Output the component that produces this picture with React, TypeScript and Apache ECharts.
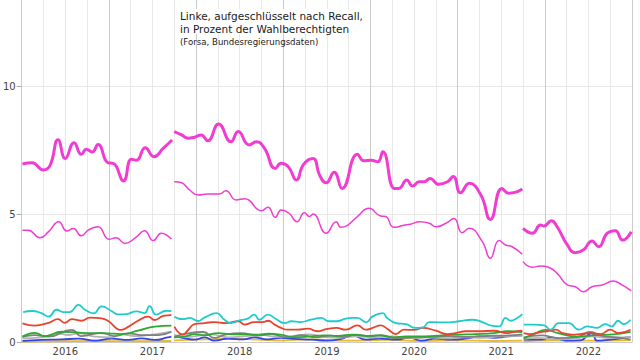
import React, { useEffect, useRef } from "react";
import * as echarts from "echarts";

// x = months since Jan 2016, y = percent of eligible voters
const yearLabels = ["2016", "2017", "2018", "2019", "2020", "2021", "2022"];
const yearLabelMonths = [6, 18, 30, 42, 54, 66, 78];
const yTickValues = [0, 5, 10];

const magentaThickP1 = [[0.1,6.95],[1.4,7.0],[3.0,6.72],[3.9,6.9],[5.0,7.9],[6.0,7.17],[7.2,7.78],[8.2,7.33],[8.9,7.53],[9.7,7.42],[10.5,7.71],[11.9,7.0],[12.6,6.98],[14.0,6.29],[15.1,7.14],[15.8,7.1],[17.0,7.59],[18.2,7.24],[19.5,7.57],[20.7,7.89]];
const magentaThickP2 = [[21.0,8.22],[22.0,8.09],[22.9,7.96],[23.8,8.0],[24.7,8.09],[25.6,7.86],[27.1,8.52],[28.8,7.82],[29.8,8.22],[31.3,7.7],[32.3,7.82],[33.4,7.57],[34.9,6.78],[35.7,6.98],[36.7,6.85],[37.8,6.33],[38.8,6.94],[40.1,7.17],[41.0,6.52],[41.9,6.22],[43.0,6.63],[44.1,6.0],[46.2,7.33],[47.1,7.08],[48.1,7.1],[49.0,7.04],[49.7,7.43],[51.3,6.0],[51.9,6.0],[53.0,6.33],[53.8,6.09],[54.7,6.26],[55.4,6.26],[56.2,6.39],[57.4,6.16],[58.6,6.26],[59.4,6.46],[60.4,5.83],[61.6,6.2],[63.2,5.74],[64.5,4.79],[66.1,6.0],[67.0,5.81],[68.2,5.87],[68.9,5.98]];
const magentaThickP3 = [[69.0,4.44],[70.3,4.25],[71.4,4.57],[71.9,4.53],[72.9,4.74],[73.7,4.5],[75.1,3.79],[76.2,3.49],[77.3,3.59],[78.5,3.95],[79.4,3.72],[80.6,4.25],[81.7,4.35],[82.7,3.98],[83.9,4.31]];

const magentaThinP1 = [[0.1,4.37],[0.9,4.37],[2.5,4.07],[3.7,4.31],[5.1,4.7],[6.2,4.34],[7.1,4.43],[8.2,4.15],[9.2,4.38],[10.5,4.5],[12.0,4.01],[13.0,4.07],[14.2,3.85],[15.8,4.11],[16.9,4.35],[18.1,3.96],[19.2,4.25],[20.6,4.02]];
const magentaThinP2 = [[21.0,6.26],[22.0,6.22],[23.1,5.94],[24.3,5.74],[25.6,5.78],[27.2,5.78],[28.1,5.91],[29.5,5.55],[30.7,5.6],[33.0,5.13],[33.9,5.26],[34.9,4.87],[35.7,5.16],[36.8,5.03],[37.9,4.7],[38.9,5.05],[39.6,4.9],[40.1,5.0],[41.9,4.25],[43.3,4.7],[43.9,4.48],[44.9,4.57],[46.2,4.9],[47.8,5.22],[49.4,4.92],[50.1,4.9],[51.2,4.48],[52.6,4.56],[53.5,4.6],[54.8,4.7],[56.1,4.64],[57.0,4.5],[58.4,4.64],[59.5,4.82],[60.6,4.27],[61.6,4.44],[63.4,3.92],[64.5,3.27],[65.7,3.96],[66.6,3.79],[67.5,3.72],[68.9,3.43]];
const magentaThinP3 = [[69.0,3.14],[70.3,2.92],[71.4,2.97],[72.5,2.92],[73.7,2.68],[75.1,2.23],[76.2,2.16],[77.3,1.96],[78.5,2.16],[79.9,2.23],[81.4,2.38],[82.6,2.23],[83.9,2.0]];

const cyanP1 = [[0.2,1.17],[1.4,1.21],[2.7,1.13],[3.7,0.99],[4.8,1.26],[5.7,1.17],[6.6,1.17],[7.8,1.45],[8.7,1.26],[9.9,1.12],[11.0,1.39],[12.4,1.2],[13.3,1.08],[14.4,1.09],[15.8,1.2],[16.9,1.13],[17.6,1.4],[18.5,1.07],[19.9,1.22],[20.6,1.21]];
const cyanP2 = [[21.0,0.99],[22.2,0.89],[23.1,0.94],[24.3,0.82],[25.2,0.96],[26.8,1.13],[27.9,0.87],[28.8,0.74],[29.8,0.83],[31.1,0.91],[32.0,1.07],[32.7,0.87],[33.9,1.07],[34.8,0.94],[36.2,0.74],[37.1,0.81],[38.4,0.78],[39.8,0.87],[41.2,0.94],[42.3,0.81],[43.3,0.81],[44.6,0.91],[45.5,0.94],[46.2,0.94],[47.4,0.77],[48.3,1.0],[49.7,1.13],[50.3,0.94],[51.5,0.74],[52.9,0.7],[54.2,0.55],[55.2,0.57],[56.1,0.78],[57.4,0.77],[58.8,0.77],[60.2,0.81],[62.0,0.87],[63.4,0.78],[64.5,0.65],[65.7,0.61],[66.6,0.94],[67.3,0.83],[68.2,0.94],[68.9,1.09]];
const cyanP3 = [[69.1,0.68],[70.5,0.68],[71.9,0.65],[72.8,0.48],[73.9,0.74],[75.3,0.74],[76.7,0.48],[77.8,0.61],[79.2,0.55],[80.3,0.7],[81.2,0.61],[82.1,0.83],[82.8,0.7],[83.8,0.87]];

const redP1 = [[0.1,0.73],[1.8,0.64],[3.7,0.75],[5.0,0.89],[5.9,0.75],[6.9,0.89],[8.2,0.83],[9.4,0.95],[11.0,0.92],[11.9,0.82],[13.7,0.47],[14.7,0.6],[16.0,0.83],[17.4,0.99],[18.3,0.86],[19.5,1.02],[20.6,1.05]];
const redP2 = [[21.0,0.6],[22.2,0.29],[22.9,0.47],[23.8,0.7],[25.2,0.74],[26.5,0.78],[28.1,0.74],[29.8,0.81],[30.7,0.68],[32.0,0.78],[33.2,0.78],[33.9,0.83],[34.8,0.68],[35.7,0.55],[36.6,0.48],[38.0,0.48],[39.4,0.52],[40.7,0.42],[41.9,0.5],[43.3,0.55],[44.6,0.48],[46.2,0.65],[47.4,0.48],[48.3,0.55],[49.4,0.65],[50.3,0.52],[51.5,0.31],[52.6,0.48],[54.0,0.47],[55.2,0.55],[57.0,0.44],[58.6,0.31],[59.7,0.35],[61.1,0.42],[62.9,0.42],[65.0,0.44],[66.8,0.35],[68.2,0.42],[68.9,0.44]];
const redP3 = [[69.1,0.35],[70.0,0.31],[71.4,0.39],[72.3,0.42],[73.5,0.48],[74.4,0.35],[75.8,0.29],[76.9,0.31],[78.3,0.35],[79.7,0.31],[81.0,0.48],[82.1,0.35],[83.8,0.48]];

const greenP1 = [[0.1,0.21],[1.8,0.36],[3.2,0.23],[5.5,0.4],[8.2,0.36],[11.9,0.34],[13.7,0.31],[16.0,0.44],[18.3,0.6],[20.6,0.64]];
const greenP2 = [[21.0,0.18],[22.5,0.22],[23.8,0.31],[25.2,0.26],[27.0,0.35],[28.6,0.31],[30.6,0.3],[32.6,0.29],[34.0,0.33],[35.8,0.28],[37.5,0.18],[39.8,0.22],[41.6,0.26],[43.5,0.24],[45.5,0.29],[47.4,0.24],[49.2,0.26],[51.0,0.18],[53.0,0.22],[55.5,0.22],[57.9,0.26],[60.2,0.29],[62.5,0.31],[65.0,0.35],[66.9,0.42],[68.9,0.39]];
const greenP3 = [[69.1,0.14],[70.7,0.34],[72.1,0.47],[73.7,0.36],[76.4,0.21],[79.2,0.27],[81.5,0.3],[83.8,0.4]];

const grayDarkP1 = [[0.1,0.2],[1.8,0.27],[3.7,0.21],[6.9,0.47],[8.2,0.23],[11.0,0.36],[12.8,0.23],[14.7,0.34],[16.5,0.27],[18.8,0.27],[20.6,0.4]];
const grayDarkP2 = [[21.0,0.2],[22.3,0.31],[25.0,0.39],[26.5,0.16],[28.0,0.29],[30.2,0.35],[32.5,0.25],[34.3,0.31],[36.5,0.18],[38.5,0.27],[40.5,0.18],[42.5,0.25],[44.5,0.2],[46.0,0.29],[48.0,0.22],[49.5,0.27],[51.5,0.15],[54.0,0.18],[56.5,0.2],[59.0,0.22],[61.5,0.2],[64.0,0.24],[66.5,0.25],[68.9,0.3]];
const grayDarkP3 = [[69.1,0.18],[71.5,0.26],[74.0,0.15],[76.5,0.2],[78.3,0.39],[79.8,0.24],[82.0,0.18],[83.8,0.09]];

const grayLightP1 = [[0.1,0.14],[2.7,0.18],[5.0,0.34],[6.4,0.27],[7.8,0.34],[10.1,0.21],[12.4,0.18],[13.7,0.3],[15.6,0.23],[17.4,0.27],[19.2,0.34],[20.6,0.4]];
const grayLightP2 = [[21.0,0.28],[22.5,0.2],[24.5,0.25],[26.0,0.3],[28.5,0.18],[30.5,0.22],[33.0,0.28],[35.0,0.2],[37.5,0.24],[39.5,0.3],[41.5,0.2],[43.5,0.16],[46.0,0.22],[48.5,0.18],[51.0,0.22],[53.5,0.15],[56.0,0.18],[58.5,0.14],[61.0,0.18],[63.5,0.16],[66.0,0.22],[68.9,0.24]];
const grayLightP3 = [[69.1,0.12],[71.0,0.16],[73.5,0.1],[76.0,0.14],[78.5,0.22],[80.5,0.16],[83.8,0.2]];

const blueP1 = [[0.1,0.04],[2.7,0.08],[5.5,0.1],[7.8,0.13],[10.1,0.05],[12.4,0.13],[14.7,0.08],[16.5,0.14],[18.3,0.08],[20.1,0.18],[20.6,0.21]];
const blueP2 = [[21.0,0.22],[22.2,0.16],[23.8,0.09],[25.2,0.18],[26.5,0.05],[28.4,0.13],[30.5,0.1],[32.0,0.18],[33.8,0.1],[35.7,0.16],[37.5,0.12],[40.0,0.09],[42.0,0.05],[44.0,0.12],[45.5,0.26],[47.4,0.09],[49.2,0.13],[51.8,0.09],[53.3,0.18],[55.0,0.05],[57.0,0.13],[59.0,0.09],[61.3,0.14],[63.0,0.22],[65.0,0.16],[67.0,0.22],[68.9,0.26]];
const blueP3 = [[69.1,0.09],[71.5,0.09],[73.0,0.18],[74.9,0.05],[76.8,0.06],[78.5,0.35],[79.2,0.05],[81.0,0.09],[82.5,0.14],[83.8,0.2]];

const yellowP1 = [[0.1,0.02],[5.0,0.03],[10.0,0.04],[15.0,0.03],[20.6,0.04]];
const yellowP2 = [[21.0,0.06],[25.0,0.1],[30.0,0.12],[35.0,0.06],[40.0,0.1],[45.0,0.05],[50.0,0.08],[55.0,0.04],[60.0,0.06],[65.0,0.04],[68.9,0.05]];
const yellowP3 = [[69.1,0.03],[73.0,0.06],[78.0,0.05],[83.8,0.07]];

const seriesDefs = [
  { name: "yellow", color: "#e8bb2e", width: 1.8, parts: [yellowP1, yellowP2, yellowP3] },
  { name: "blue", color: "#3344ee", width: 1.8, parts: [blueP1, blueP2, blueP3] },
  { name: "grayLight", color: "#b4b4b4", width: 1.8, parts: [grayLightP1, grayLightP2, grayLightP3] },
  { name: "grayDark", color: "#808080", width: 1.8, parts: [grayDarkP1, grayDarkP2, grayDarkP3] },
  { name: "green", color: "#2fa82f", width: 1.8, parts: [greenP1, greenP2, greenP3] },
  { name: "red", color: "#e8432e", width: 1.8, parts: [redP1, redP2, redP3] },
  { name: "cyan", color: "#1ecccc", width: 1.8, parts: [cyanP1, cyanP2, cyanP3] },
  { name: "magentaThin", color: "#f03cd2", width: 1.5, parts: [magentaThinP1, magentaThinP2, magentaThinP3] },
  { name: "magentaThick", color: "#f03cd2", width: 3, parts: [magentaThickP1, magentaThickP2, magentaThickP3] },
];

const FONT = "DejaVu Sans";
const MAJOR = "#cbcbcb";
const MINOR = "#e8e8e8";

export default function App() {
  const ref = useRef<HTMLDivElement>(null);
  useEffect(() => {
    document.body.style.margin = "0";
    if (!ref.current) return;
    const chart = echarts.init(ref.current, undefined, { renderer: "svg" });
    const series: any[] = [];
    seriesDefs.forEach((d) => {
      d.parts.forEach((p, i) => {
        series.push({
          name: d.name + i,
          type: "line",
          data: p,
          smooth: 0.5,
          showSymbol: false,
          symbol: "none",
          lineStyle: { color: d.color, width: d.width },
          z: 3,
        });
      });
    });
    chart.setOption({
      animation: false,
      backgroundColor: "#ffffff",
      grid: { left: 21, right: 8, top: 0, bottom: 18, containLabel: false },
      xAxis: {
        type: "value",
        min: 0,
        max: 84,
        interval: 3,
        axisLine: { show: true, lineStyle: { color: MAJOR, width: 1 } },
        axisTick: { show: false },
        splitLine: { show: true, lineStyle: { color: [MAJOR, MINOR, MINOR, MINOR], width: 1 } },
        axisLabel: {
          customValues: yearLabelMonths,
          formatter: (v: number) => yearLabels[yearLabelMonths.indexOf(Math.round(v))] ?? "",
          fontFamily: FONT,
          fontSize: 10,
          color: "#444",
          margin: 4,
        },
      },
      yAxis: {
        type: "value",
        min: 0,
        max: 342 / 25.6,
        interval: 1,
        axisLine: { show: true, lineStyle: { color: MAJOR, width: 1 } },
        axisTick: { show: true, customValues: yTickValues, length: 5, lineStyle: { color: "#aaa" } },
        splitLine: { show: true, lineStyle: { color: [MAJOR, MINOR, MINOR, MINOR, MINOR], width: 1 } },
        axisLabel: {
          customValues: yTickValues,
          formatter: (v: number) => String(Math.round(v)),
          fontFamily: FONT,
          fontSize: 10,
          color: "#444",
          margin: 6,
        },
      },
      graphic: [
        { type: "rect", shape: { x: 176, y: 9, width: 190, height: 25 }, style: { fill: "#ffffff" }, z: 10 },
        {
          type: "text",
          x: 180,
          y: 10,
          z: 11,
          style: { text: "Linke, aufgeschlüsselt nach Recall,", font: `10.5px "${FONT}"`, fill: "#1a1a1a" },
        },
        {
          type: "text",
          x: 180,
          y: 23,
          z: 11,
          style: { text: "in Prozent der Wahlberechtigten", font: `10.5px "${FONT}"`, fill: "#1a1a1a" },
        },
        {
          type: "text",
          x: 180,
          y: 37,
          z: 11,
          style: { text: "(Forsa, Bundesregierungsdaten)", font: `8.6px "${FONT}"`, fill: "#1a1a1a" },
        },
      ],
      series,
    });
    return () => chart.dispose();
  }, []);
  return <div ref={ref} style={{ width: 640, height: 360 }} />;
}
